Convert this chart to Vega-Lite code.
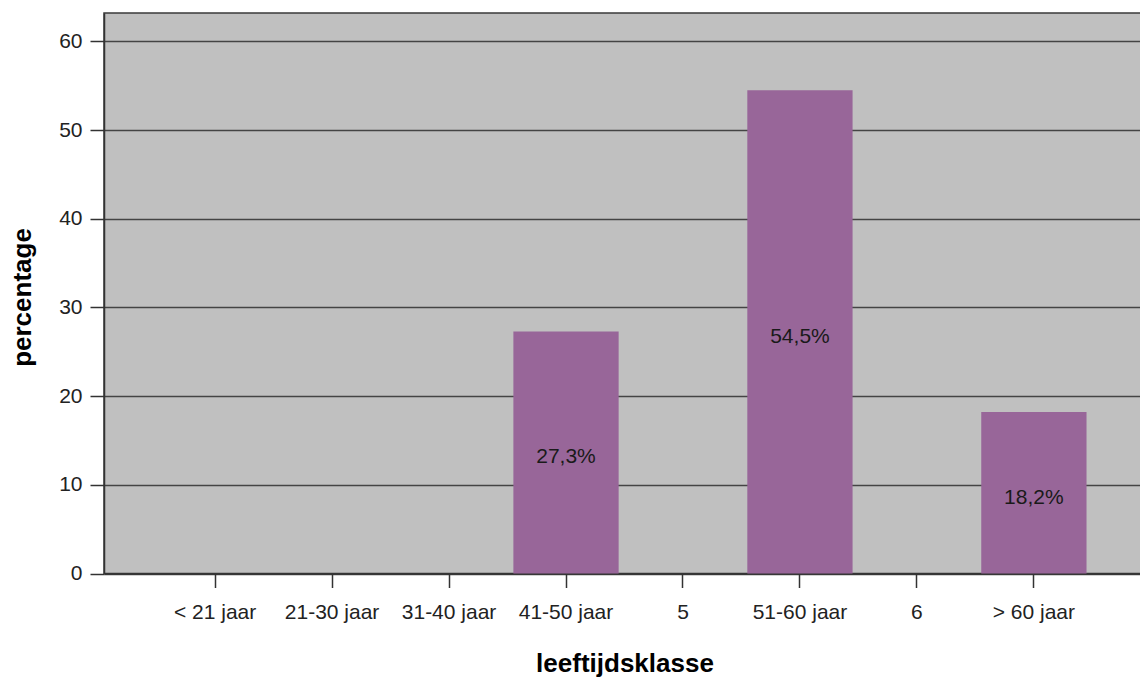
{
  "$schema": "https://vega.github.io/schema/vega-lite/v6.json",
  "width": 1037,
  "height": 560.5,
  "autosize": {"type": "none"},
  "padding": {"left": 104, "top": 13, "right": 0, "bottom": 103.5},
  "background": "white",
  "config": {
    "font": "Liberation Sans",
    "view": {"fill": "#c0c0c0", "stroke": "#3a3a3a", "strokeWidth": 1.5}
  },
  "data": {
    "values": [
      {"klasse": "41-50 jaar", "pct": 27.3, "label": "27,3%"},
      {"klasse": "51-60 jaar", "pct": 54.5, "label": "54,5%"},
      {"klasse": "> 60 jaar", "pct": 18.2, "label": "18,2%"}
    ]
  },
  "encoding": {
    "x": {
      "field": "klasse",
      "type": "nominal",
      "sort": null,
      "scale": {
        "domain": ["< 21 jaar", "21-30 jaar", "31-40 jaar", "41-50 jaar", "5", "51-60 jaar", "6", "> 60 jaar"],
        "range": [0, 1041],
        "paddingInner": 0.1,
        "paddingOuter": 0.5
      },
      "axis": {
        "labelAngle": 0,
        "labelFontSize": 21,
        "labelColor": "#222222",
        "labelBaseline": "alphabetic",
        "labelPadding": 31,
        "tickSize": 14,
        "tickWidth": 1.5,
        "tickColor": "#333333",
        "domainColor": "#333333",
        "domainWidth": 1.5,
        "grid": false,
        "title": "leeftijdsklasse",
        "titleFontSize": 26,
        "titleFontWeight": "bold",
        "titleColor": "#000000",
        "titleBaseline": "alphabetic",
        "titleY": 98
      }
    }
  },
  "layer": [
    {
      "mark": {"type": "bar", "color": "#986699"},
      "encoding": {
        "y": {
          "field": "pct",
          "type": "quantitative",
          "scale": {"domain": [0, 63.2], "nice": false, "zero": true},
          "axis": {
            "values": [0, 10, 20, 30, 40, 50, 60],
            "grid": true,
            "gridColor": "#444444",
            "gridWidth": 1.6,
            "domainColor": "#333333",
            "domainWidth": 1.5,
            "tickSize": 14,
            "tickWidth": 1.5,
            "tickColor": "#333333",
            "labelFontSize": 21,
            "labelColor": "#222222",
            "labelPadding": 8,
            "title": "percentage",
            "titleFontSize": 26,
            "titleFontWeight": "bold",
            "titleColor": "#000000",
            "titleBaseline": "alphabetic",
            "titleX": -74,
            "titleY": 284
          }
        }
      }
    },
    {
      "mark": {"type": "text", "fontSize": 21, "color": "#1a1a1a", "baseline": "middle", "dy": 5},
      "encoding": {
        "y": {
          "field": "pct",
          "type": "quantitative",
          "scale": {"domain": [0, 126.4], "nice": false, "zero": true},
          "axis": null
        },
        "text": {"field": "label"}
      }
    }
  ],
  "resolve": {"scale": {"y": "independent"}}
}
